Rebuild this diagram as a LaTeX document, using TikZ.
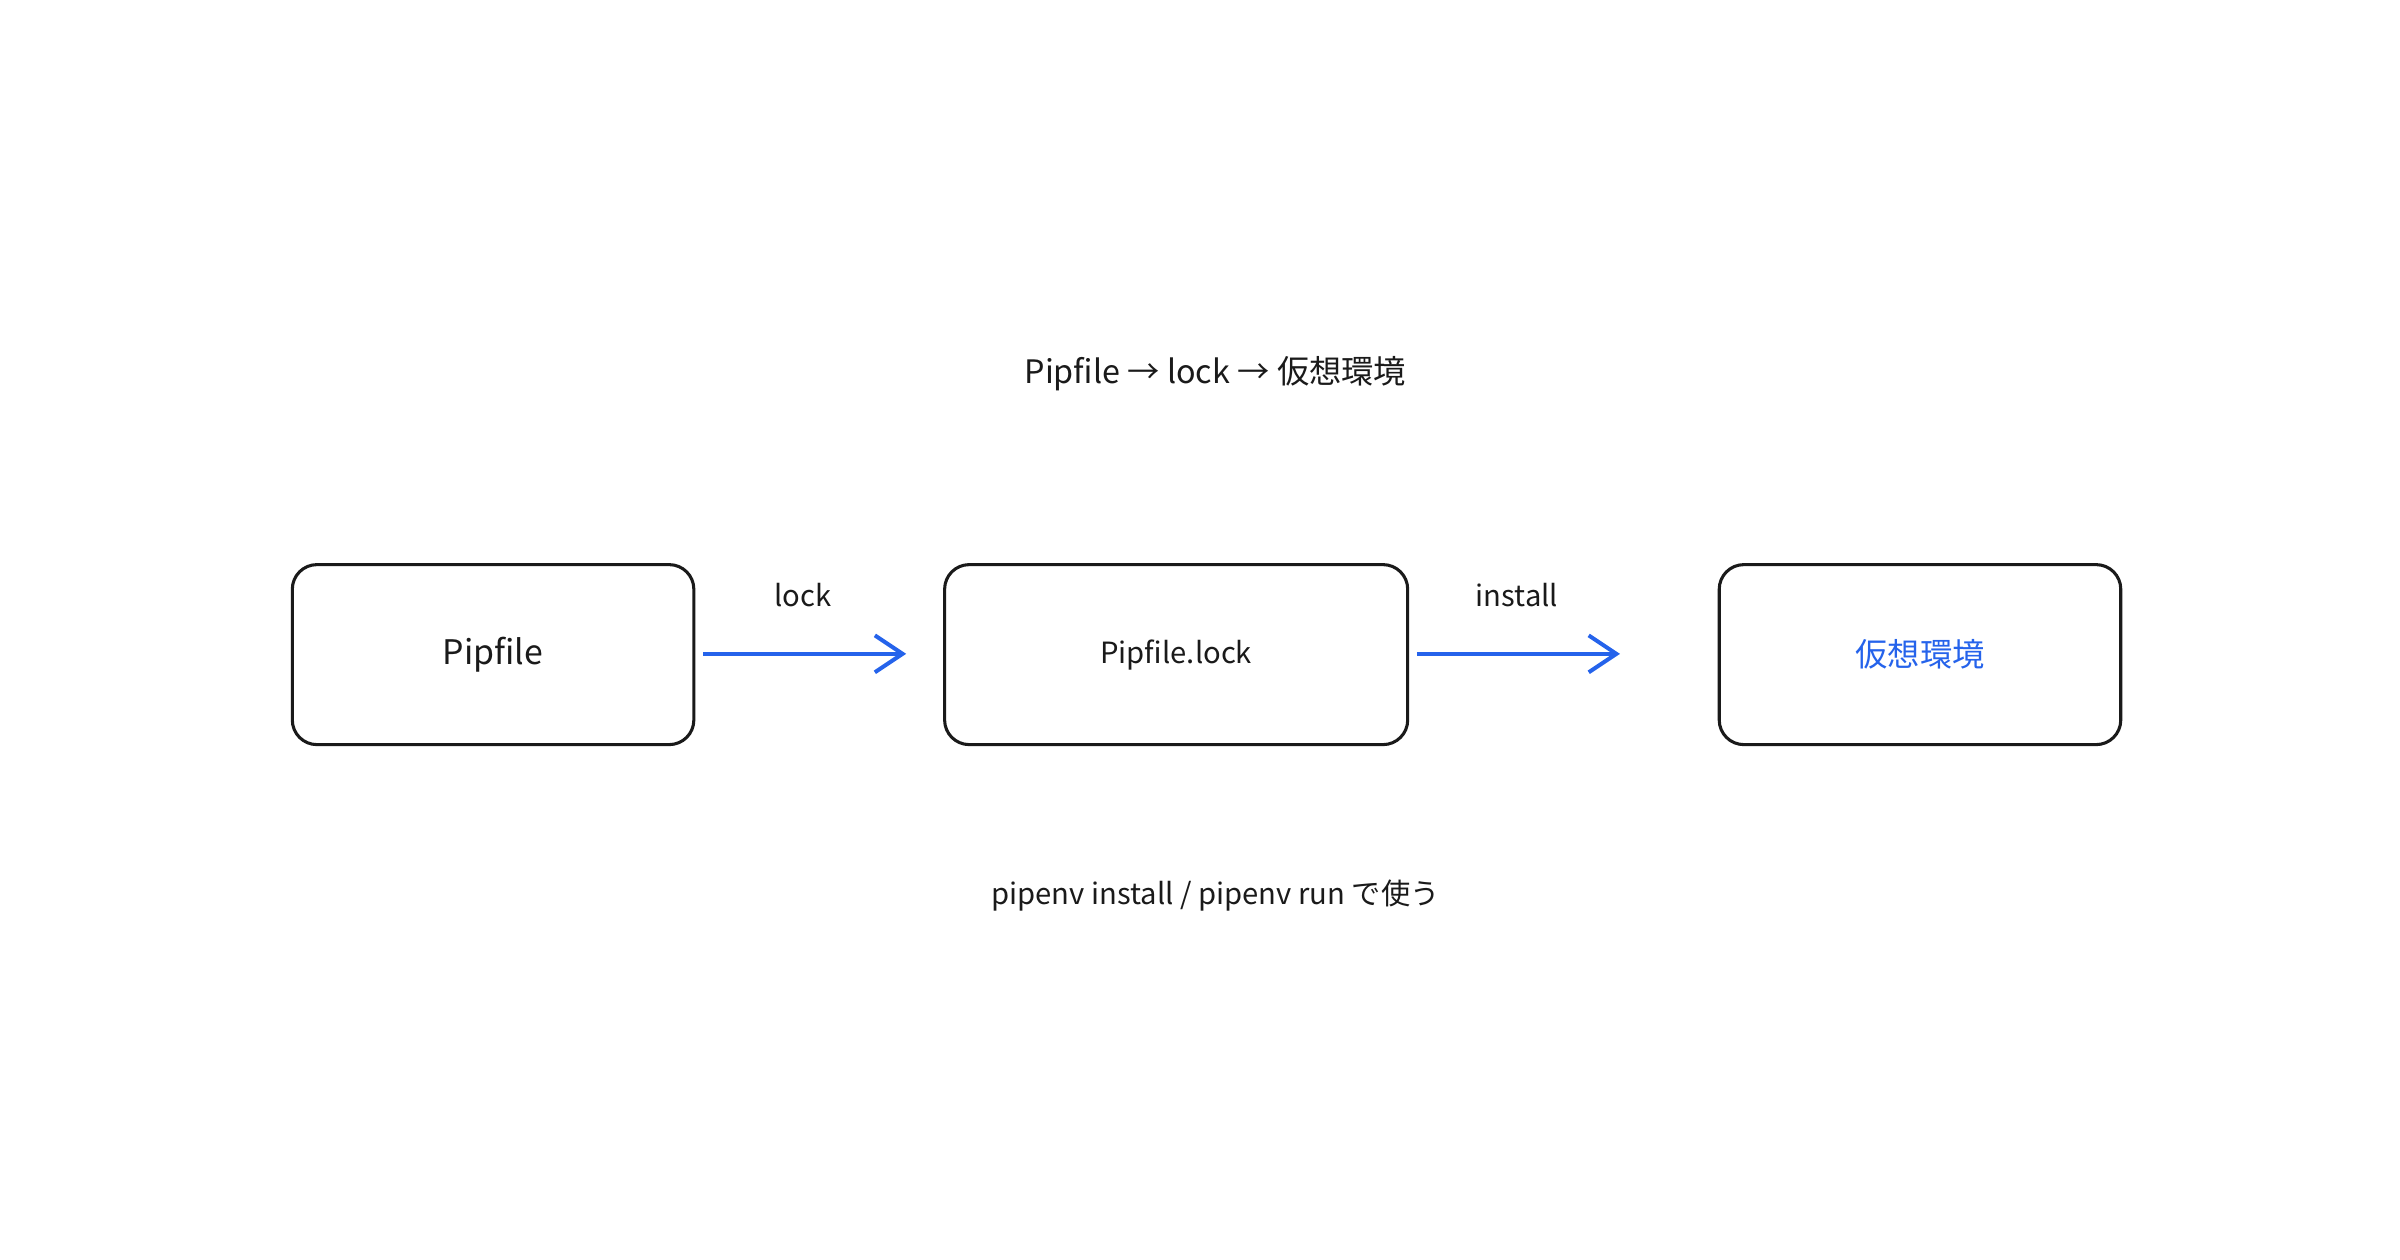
\documentclass[tikz,border=0pt]{standalone}
\usepackage{fontspec}
\setmainfont{Noto Sans CJK JP}
\usetikzlibrary{arrows.meta}
\definecolor{ink}{HTML}{1A1A1A}
\definecolor{blu}{HTML}{2563EB}
\begin{document}
\begin{tikzpicture}[x=0.5pt,y=-0.5pt,
  box/.style={draw=ink,line width=1pt,rounded corners=8pt,minimum width=130.5pt,minimum height=58.5pt,inner sep=0pt},
  arr/.style={draw=blu,line width=1.5pt,-{Straight Barb[length=9pt,width=12pt,line width=1.3pt]}},
  lbl/.style={text=ink,font=\fontsize{9.5}{11}\selectfont}]
\useasboundingbox (0,0) rectangle (1560,819);
\node[text=ink,font=\fontsize{10.5}{12}\selectfont] (title) at (790,243) {Pipfile → lock → 仮想環境};
\node[box,font=\fontsize{11}{13}\selectfont,text=ink] (a) at (320.5,425.5) {Pipfile};
\node[box,minimum width=150.5pt,font=\fontsize{9.5}{11}\selectfont,text=ink] (b) at (764.5,425.5) {Pipfile.lock};
\node[box,font=\fontsize{10.5}{12}\selectfont,text=blu] (c) at (1248,425.5) {仮想環境};
\coordinate (a1) at (457,425); \coordinate (a2) at (589,425);
\coordinate (b1) at (921,425); \coordinate (b2) at (1053,425);
\draw[arr] (a1) -- (a2);
\draw[arr] (b1) -- (b2);
\node[lbl] (l1) at (522,387) {lock};
\node[lbl] (l2) at (986,387) {install};
\node[lbl] (foot) at (790,582) {pipenv install / pipenv run で使う};
\end{tikzpicture}
\end{document}
